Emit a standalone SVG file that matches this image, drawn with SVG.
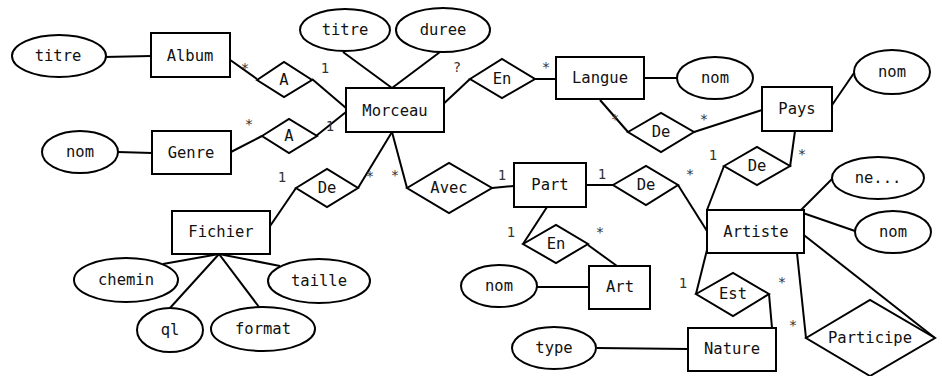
<svg xmlns="http://www.w3.org/2000/svg" width="942" height="376" viewBox="0 0 942 376">
<style>
.b{fill:#fff;stroke:#000;stroke-width:2}
.c{fill:none;stroke:#000;stroke-width:2}
text{font-family:"DejaVu Sans Mono","Liberation Mono",monospace;fill:#111}
.t{font-size:15.5px;text-anchor:middle}
.l{font-size:14px;text-anchor:middle;fill:#333}
</style>
<rect width="942" height="376" fill="#fff"/>
<g id="connectors" class="c">
<path d="M104 57L151 56"/>
<path d="M226 57L257 79"/>
<path d="M312 79L346 108"/>
<path d="M118 152L152 153"/>
<path d="M229 153L262 136"/>
<path d="M316 136L346 112"/>
<path d="M343 52L392 88"/>
<path d="M440 52L392 88"/>
<path d="M438 109L470 79"/>
<path d="M535 79L556 79"/>
<path d="M640 78L677 78"/>
<path d="M600 100L628 132"/>
<path d="M694 132L762 110"/>
<path d="M830 108L854 73"/>
<path d="M795 131L790 167"/>
<path d="M724 166L707 210"/>
<path d="M800 211L832 179"/>
<path d="M800 212L855 231"/>
<path d="M800 232L935 338"/>
<path d="M797 253L806 338"/>
<path d="M707 250L696 294"/>
<path d="M769 294L772 328"/>
<path d="M597 348L688 349"/>
<path d="M392 132L407 188"/>
<path d="M392 132L358 188"/>
<path d="M492 188L514 186"/>
<path d="M296 188L266 232"/>
<path d="M219 254L163 264"/>
<path d="M219 254L280 266"/>
<path d="M219 254L170 308"/>
<path d="M219 254L259 307"/>
<path d="M584 185L613 185"/>
<path d="M678 185L707 231"/>
<path d="M547 207L523 244"/>
<path d="M588 245L617 266"/>
<path d="M537 287L589 287"/>
</g>
<g id="labels">
<text class="l" x="245" y="73">*</text>
<text class="l" x="325" y="73">1</text>
<text class="l" x="249" y="129">*</text>
<text class="l" x="330" y="131">1</text>
<text class="l" x="457" y="72">?</text>
<text class="l" x="546" y="72">*</text>
<text class="l" x="615" y="124">*</text>
<text class="l" x="704" y="124">*</text>
<text class="l" x="802" y="159">*</text>
<text class="l" x="713" y="160">1</text>
<text class="l" x="282" y="182">1</text>
<text class="l" x="370" y="181">*</text>
<text class="l" x="395" y="180">*</text>
<text class="l" x="502" y="180">1</text>
<text class="l" x="602" y="179">1</text>
<text class="l" x="690" y="179">*</text>
<text class="l" x="511" y="237">1</text>
<text class="l" x="600" y="237">*</text>
<text class="l" x="683" y="288">1</text>
<text class="l" x="782" y="287">*</text>
<text class="l" x="793" y="330">*</text>
</g>
<g id="album"><rect class="b" x="151" y="33" width="79" height="44"/><text class="t" x="190" y="61">Album</text></g>
<g id="album-titre"><ellipse class="b" cx="59" cy="56" rx="47" ry="21"/><text class="t" x="58" y="61">titre</text></g>
<g id="genre"><rect class="b" x="152" y="131" width="79" height="43"/><text class="t" x="191" y="158">Genre</text></g>
<g id="genre-nom"><ellipse class="b" cx="80" cy="152" rx="38" ry="21"/><text class="t" x="80" y="157">nom</text></g>
<g id="a1"><path class="b" d="M257 80L284 62L312 80L284 97Z"/><text class="t" x="284" y="85">A</text></g>
<g id="a2"><path class="b" d="M262 136L289 119L317 136L289 153Z"/><text class="t" x="289" y="141">A</text></g>
<g id="morceau"><rect class="b" x="346" y="88" width="98" height="44"/><text class="t" x="395" y="116">Morceau</text></g>
<g id="morceau-titre"><ellipse class="b" cx="345" cy="30" rx="45" ry="21"/><text class="t" x="345" y="35">titre</text></g>
<g id="morceau-duree"><ellipse class="b" cx="443" cy="30" rx="47" ry="22"/><text class="t" x="443" y="35">duree</text></g>
<g id="en1"><path class="b" d="M470 79L502 59L535 79L502 98Z"/><text class="t" x="502" y="84">En</text></g>
<g id="langue"><rect class="b" x="556" y="57" width="88" height="42"/><text class="t" x="600" y="83">Langue</text></g>
<g id="langue-nom"><ellipse class="b" cx="715" cy="78" rx="38" ry="21"/><text class="t" x="715" y="83">nom</text></g>
<g id="de-langue-pays"><path class="b" d="M628 132L661 113L694 132L661 152Z"/><text class="t" x="661" y="137">De</text></g>
<g id="pays"><rect class="b" x="762" y="87" width="70" height="44"/><text class="t" x="797" y="114">Pays</text></g>
<g id="pays-nom"><ellipse class="b" cx="892" cy="72" rx="38" ry="22"/><text class="t" x="892" y="77">nom</text></g>
<g id="de-pays-artiste"><path class="b" d="M724 166L757 147L790 166L757 185Z"/><text class="t" x="757" y="171">De</text></g>
<g id="artiste"><rect class="b" x="707" y="210" width="97" height="43"/><text class="t" x="756" y="237">Artiste</text></g>
<g id="artiste-ne"><ellipse class="b" cx="878" cy="178" rx="46" ry="21"/><text class="t" x="878" y="183">ne...</text></g>
<g id="artiste-nom"><ellipse class="b" cx="893" cy="232" rx="38" ry="21"/><text class="t" x="893" y="237">nom</text></g>
<g id="participe"><path class="b" d="M806 338L870 300L935 338L870 376Z"/><text class="t" x="870" y="343">Participe</text></g>
<g id="est"><path class="b" d="M696 294L733 273L769 294L733 316Z"/><text class="t" x="733" y="299">Est</text></g>
<g id="nature"><rect class="b" x="688" y="328" width="88" height="43"/><text class="t" x="732" y="354">Nature</text></g>
<g id="nature-type"><ellipse class="b" cx="554" cy="348" rx="42" ry="21"/><text class="t" x="554" y="353">type</text></g>
<g id="part"><rect class="b" x="514" y="163" width="72" height="44"/><text class="t" x="550" y="190">Part</text></g>
<g id="avec"><path class="b" d="M407 188L449 163L492 188L449 213Z"/><text class="t" x="449" y="193">Avec</text></g>
<g id="de-fichier"><path class="b" d="M296 188L327 169L358 188L327 207Z"/><text class="t" x="327" y="193">De</text></g>
<g id="fichier"><rect class="b" x="172" y="211" width="98" height="43"/><text class="t" x="221" y="237">Fichier</text></g>
<g id="fichier-chemin"><ellipse class="b" cx="126" cy="280" rx="52" ry="22"/><text class="t" x="126" y="285">chemin</text></g>
<g id="fichier-taille"><ellipse class="b" cx="319" cy="281" rx="51" ry="22"/><text class="t" x="319" y="286">taille</text></g>
<g id="fichier-ql"><ellipse class="b" cx="170" cy="330" rx="33" ry="22"/><text class="t" x="170" y="335">ql</text></g>
<g id="fichier-format"><ellipse class="b" cx="263" cy="329" rx="52" ry="22"/><text class="t" x="263" y="334">format</text></g>
<g id="de-part-artiste"><path class="b" d="M613 185L646 166L678 185L646 205Z"/><text class="t" x="646" y="190">De</text></g>
<g id="en2"><path class="b" d="M523 244L556 225L588 244L556 263Z"/><text class="t" x="556" y="249">En</text></g>
<g id="art"><rect class="b" x="589" y="266" width="61" height="43"/><text class="t" x="620" y="292">Art</text></g>
<g id="art-nom"><ellipse class="b" cx="499" cy="286" rx="38" ry="21"/><text class="t" x="499" y="291">nom</text></g>
</svg>
